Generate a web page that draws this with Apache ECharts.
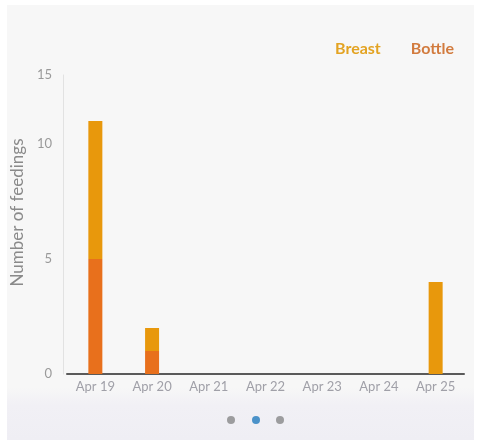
<!DOCTYPE html>
<html>
<head>
<meta charset="utf-8">
<script src="https://cdn.jsdelivr.net/npm/echarts@6/dist/echarts.min.js"></script>
<style>
html,body{margin:0;padding:0;background:#ffffff;}
#chart{width:479px;height:440px;}
</style>
</head>
<body>
<div id="chart"></div>
<script>
const categories = ['Apr 19','Apr 20','Apr 21','Apr 22','Apr 23','Apr 24','Apr 25'];
const bottle = [5, 1, 0, 0, 0, 0, 0];
const breast = [6, 1, 0, 0, 0, 0, 4];
const yTickLabels = ['0','5','10','15'];
const yMax = 13;

const chart = echarts.init(document.getElementById('chart'), null, {renderer:'canvas'});
chart.setOption({
  animation: false,
  backgroundColor: '#ffffff',
  textStyle: { fontFamily: 'Lato' },
  graphic: [
    { type:'rect', z:-10, shape:{x:7,y:5,width:467,height:435},
      style:{ fill: new echarts.graphic.LinearGradient(0,0,0,1,[
        {offset:0, color:'#f7f7f7'},
        {offset:0.88, color:'#f7f7f7'},
        {offset:0.92, color:'#f1f0f5'},
        {offset:1, color:'#efeef4'}]) } },
    { type:'circle', shape:{cx:231, cy:420, r:4}, style:{fill:'#9c9c9e'} },
    { type:'circle', shape:{cx:256, cy:420, r:4}, style:{fill:'#4b92c9'} },
    { type:'circle', shape:{cx:280, cy:420, r:4}, style:{fill:'#9c9c9e'} }
  ],
  legend: {
    right: 20, top: 36,
    itemWidth: 0, itemHeight: 0, itemGap: 30,
    icon: 'rect',
    data: [
      { name:'Breast', textStyle:{ color:'#e3a322' } },
      { name:'Bottle', textStyle:{ color:'#d27b3e' } }
    ],
    textStyle: { fontSize: 16, fontWeight: 'bold', fontFamily: 'Lato', padding:[0,0,0,-5] }
  },
  grid: { left: 67, right: 15, top: 75, bottom: 66, outerBoundsMode: 'none', containLabel: false },
  xAxis: {
    type: 'category',
    data: categories,
    axisLine: { lineStyle: { color: '#5a5a5a', width: 2 } },
    axisTick: { show: false },
    axisLabel: { color: '#a0a0a8', fontSize: 13, margin: 6, fontFamily: 'Lato' }
  },
  yAxis: {
    type: 'value',
    min: 0, max: yMax, interval: 5,
    offset: 4,
    name: 'Number of feedings',
    nameLocation: 'middle',
    nameGap: 32,
    nameTextStyle: { color: '#8a8a8a', fontSize: 17, fontFamily: 'Lato', padding:[0,0,0,24] },
    axisLine: { show: true, lineStyle: { color: '#e2e2e2', width: 1 } },
    axisTick: { show: false },
    splitLine: { show: false },
    axisLabel: { color: '#9a9a9a', fontSize: 13, margin: 11, fontFamily: 'Lato',
      formatter: (v, i) => yTickLabels[i] }
  },
  series: [
    { name:'Bottle', type:'bar', stack:'f', data: bottle, barWidth: 14,
      itemStyle:{ color:'#e8701c' } },
    { name:'Breast', type:'bar', stack:'f', data: breast, barWidth: 14,
      itemStyle:{ color:'#e8980c' } }
  ]
});
</script>
</body>
</html>
